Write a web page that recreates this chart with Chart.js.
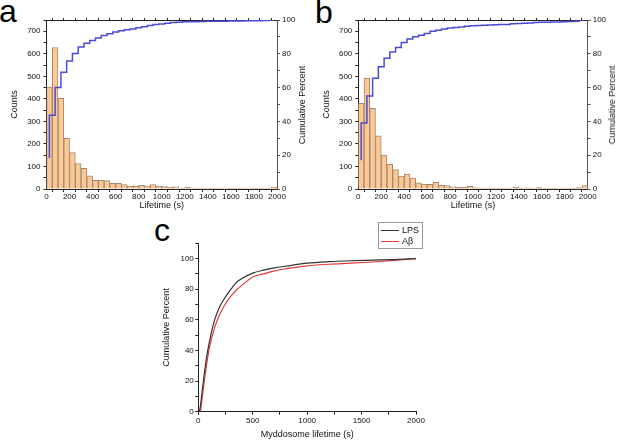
<!DOCTYPE html>
<html>
<head>
<meta charset="utf-8">
<script src="https://cdn.jsdelivr.net/npm/chart.js@4.4.0/dist/chart.umd.min.js"></script>
<style>
  body { margin: 0; background: #fff; width: 617px; height: 440px; position: relative; overflow: hidden;
         font-family: "Liberation Sans", Arial, sans-serif; color: #111; }
  canvas { position: absolute; }
  .letter { position: absolute; font-size: 32px; line-height: 32px; color: #000; }
  .rtitle { position: absolute; font-size: 9px; white-space: nowrap; color: #111;
            transform: translate(-50%, -50%) rotate(-90deg); }
  #legendC { position: absolute; left: 378px; top: 222px; width: 45px; height: 27px; border: 1px solid #999;
             box-sizing: border-box; font-size: 9px; padding-top: 2px; }
  #legendC .row { height: 11px; line-height: 11px; position: relative; padding-left: 23px; }
  #legendC .sw { position: absolute; left: 2px; top: 5px; width: 18px; height: 1.3px; }
</style>
</head>
<body>
<div class="letter" style="left:-1px;top:-5px">a</div>
<div class="letter" style="left:315px;top:-4px">b</div>
<div class="letter" style="left:154px;top:214px">c</div>

<canvas id="chartA" width="308" height="212" style="left:0;top:0"></canvas>
<canvas id="chartB" width="310" height="212" style="left:307px;top:0"></canvas>
<canvas id="chartC" width="320" height="225" style="left:140px;top:215px"></canvas>

<div class="rtitle" style="left:301.5px;top:104.5px">Cumulative Percent</div>
<div class="rtitle" style="left:612px;top:104.5px">Cumulative Percent</div>

<div id="legendC">
  <div class="row"><span class="sw" style="background:#333"></span>LPS</div>
  <div class="row"><span class="sw" style="background:#e23b3b"></span>Aβ</div>
</div>

<script>
// histogram bins (50 s wide), centres in seconds
const binCenters = [25, 75, 125, 175, 225, 275, 325, 375, 425, 475,
                    525, 575, 625, 675, 725, 775, 825, 875, 925, 975,
                    1025, 1075, 1125, 1175, 1225, 1275, 1325, 1375, 1425, 1475,
                    1525, 1575, 1625, 1675, 1725, 1775, 1825, 1875, 1925, 1975];

// panel a
const countsA = [452, 628, 402, 225, 162, 113, 92, 58, 38, 38,
                 37, 25, 25, 20, 13, 12, 16, 14, 20, 13,
                 11, 8, 10, 3, 7, 2, 2, 1, 2, 1,
                 1, 2, 1, 1, 1, 2, 1, 1, 2, 8];
const cumA = [18.3, 43.7, 60.0, 69.1, 75.7, 80.2, 84.0, 86.3, 87.9, 89.4,
              90.9, 91.9, 92.9, 93.7, 94.3, 94.7, 95.4, 96.0, 96.8, 97.3,
              97.7, 98.1, 98.5, 98.6, 98.9, 98.9, 99.0, 99.1, 99.2, 99.2,
              99.2, 99.3, 99.4, 99.4, 99.4, 99.5, 99.6, 99.6, 99.7, 100];

// panel b
const countsB = [380, 492, 358, 236, 150, 110, 86, 57, 66, 49,
                 27, 22, 21, 30, 16, 15, 10, 7, 7, 12,
                 5, 4, 4, 3, 3, 2, 4, 7, 3, 5,
                 2, 6, 2, 2, 2, 2, 2, 3, 6, 15];
const cumB = [17.0, 39.1, 55.1, 65.6, 72.4, 77.3, 81.1, 83.7, 86.7, 88.8,
              90.1, 91.0, 92.0, 93.3, 94.0, 94.7, 95.2, 95.5, 95.8, 96.3,
              96.6, 96.7, 96.9, 97.0, 97.2, 97.3, 97.4, 97.8, 97.9, 98.1,
              98.2, 98.5, 98.6, 98.7, 98.8, 98.8, 98.9, 99.1, 99.3, 100];

// panel c: cumulative percent vs myddosome lifetime
const lifetimeC = [10, 20, 25, 50, 75, 100, 150, 200, 250, 300, 350, 400,
                   500, 600, 700, 800, 1000, 1200, 1400, 1600, 1800, 2000];
const lpsC = [0, 4, 7, 22, 35, 45, 60, 69, 75, 80, 84.5, 87,
              90.5, 92.5, 94, 95, 97, 98, 98.6, 99, 99.4, 100];
const abetaC = [null, 0, 3, 17, 30, 41, 55, 64, 70.5, 75.5, 79.5, 82.5,
                88, 90, 92, 93.3, 95.3, 96.3, 97, 97.8, 98.8, 100];

const AXIS = '#222';
Chart.defaults.font.family = "'Liberation Sans', Arial, sans-serif";
Chart.defaults.color = '#111';

function fixWidth(w) { return s => { s.width = w; }; }
function fixHeight(h) { return s => { s.height = h; }; }
function majorLabel(step) { return v => (v % step === 0 ? String(v) : ''); }

function histogram(id, counts, cum, g) {
  new Chart(document.getElementById(id), {
    type: 'bar',
    data: {
      datasets: [
        {
          type: 'line',
          data: binCenters.map((x, i) => ({ x: x, y: cum[i] })),
          yAxisID: 'yR',
          borderColor: '#4b4bd8',
          borderWidth: 1.5,
          pointRadius: 0,
          stepped: 'after',
          order: 0
        },
        {
          type: 'bar',
          data: binCenters.map((x, i) => ({ x: x, y: counts[i] })),
          yAxisID: 'y',
          backgroundColor: '#fbc995',
          borderColor: '#a4866e',
          borderWidth: 1,
          barPercentage: 1,
          categoryPercentage: 1,
          order: 1
        }
      ]
    },
    options: {
      responsive: false,
      animation: false,
      layout: { padding: 0 },
      plugins: { legend: { display: false }, tooltip: { enabled: false } },
      scales: {
        x: {
          type: 'linear', position: 'bottom', min: 0, max: 2000, offset: false,
          afterFit: fixHeight(g.bottom),
          grid: { drawOnChartArea: false, tickLength: 3, color: AXIS },
          border: { color: AXIS },
          ticks: { stepSize: 100, autoSkip: false, maxRotation: 0, padding: 0,
                   font: { size: 8 }, callback: majorLabel(200) },
          title: { display: true, text: 'Lifetime (s)', font: { size: 9 },
                   padding: { top: 0, bottom: 1 } }
        },
        xTop: {
          type: 'linear', position: 'top', min: 0, max: 2000, offset: false,
          afterFit: fixHeight(g.top),
          grid: { drawOnChartArea: false, tickLength: 2, color: AXIS },
          border: { color: AXIS },
          ticks: { display: false, stepSize: 100 }
        },
        y: {
          position: 'left', min: 0, max: 750,
          afterFit: fixWidth(g.left),
          grid: { drawOnChartArea: false, tickLength: 3, color: AXIS },
          border: { color: AXIS },
          ticks: { stepSize: 50, autoSkip: false, padding: 3, font: { size: 8 },
                   callback: majorLabel(100) },
          title: { display: true, text: 'Counts', font: { size: 9 },
                   padding: { top: g.lTitle, bottom: 0 } }
        },
        yR: {
          position: 'right', min: 0, max: 100,
          afterFit: fixWidth(g.right),
          grid: { drawOnChartArea: false, tickLength: 3, color: '#555' },
          border: { color: '#555' },
          ticks: { stepSize: 10, autoSkip: false, padding: 2, font: { size: 8 },
                   callback: majorLabel(20) }
        }
      }
    }
  });
}

histogram('chartA', countsA, cumA, { left: 46.5, right: 31, top: 20, bottom: 23, lTitle: 9.6 });
histogram('chartB', countsB, cumB, { left: 51.3, right: 29.3, top: 20, bottom: 23, lTitle: 14.3 });

new Chart(document.getElementById('chartC'), {
  type: 'line',
  data: {
    datasets: [
      {
        label: 'LPS',
        data: lifetimeC.map((x, i) => ({ x: x, y: lpsC[i] })),
        borderColor: '#333',
        borderWidth: 1.2,
        pointRadius: 0,
        cubicInterpolationMode: 'monotone'
      },
      {
        label: 'Aβ',
        data: lifetimeC.map((x, i) => ({ x: x, y: abetaC[i] })),
        borderColor: '#e23b3b',
        borderWidth: 1.2,
        pointRadius: 0,
        cubicInterpolationMode: 'monotone'
      }
    ]
  },
  options: {
    responsive: false,
    animation: false,
    layout: { padding: { top: 28.3, right: 44, left: 0, bottom: 0 } },
    plugins: { legend: { display: false }, tooltip: { enabled: false } },
    scales: {
      x: {
        type: 'linear', min: 0, max: 2000,
        afterFit: fixHeight(28.3),
        grid: { drawOnChartArea: false, tickLength: 3, color: AXIS },
        border: { color: AXIS },
        ticks: { stepSize: 250, autoSkip: false, maxRotation: 0, padding: 1,
                 font: { size: 8 }, callback: majorLabel(500) },
        title: { display: true, text: 'Myddosome lifetime (s)', font: { size: 9 },
                 padding: { top: 0, bottom: 0 } }
      },
      y: {
        min: 0, max: 110,
        afterFit: fixWidth(58.3),
        grid: { drawOnChartArea: false, tickLength: 3, color: AXIS },
        border: { color: AXIS },
        ticks: { stepSize: 10, autoSkip: false, padding: 1.5, font: { size: 8 },
                 callback: majorLabel(20) },
        title: { display: true, text: 'Cumulative Percent', font: { size: 9 },
                 padding: { top: 21.3, bottom: 0 } }
      }
    }
  }
});
</script>
</body>
</html>
